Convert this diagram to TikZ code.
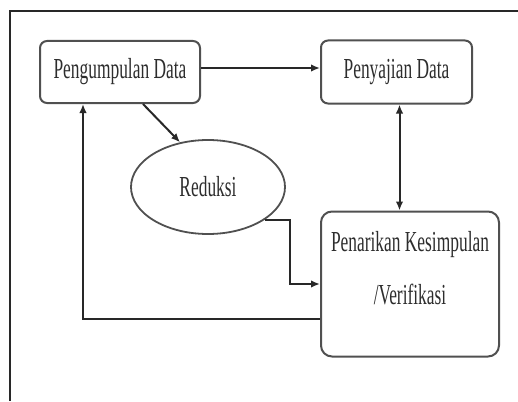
\documentclass[tikz,border=0pt]{standalone}
\usepackage{fontspec}
\setmainfont{Liberation Serif}[FakeStretch=0.6]
\usetikzlibrary{arrows.meta,positioning,shapes.geometric}
\definecolor{LineGray}{RGB}{40,40,40}
\definecolor{BoxGray}{RGB}{80,80,80}
\definecolor{TextGray}{RGB}{45,45,45}

\begin{document}
\begin{tikzpicture}[x=1pt,y=-1pt,
    box/.style={draw=BoxGray,line width=2pt,rounded corners=7pt,text=TextGray,font=\fontsize{29}{35}\selectfont,align=center,inner sep=0pt},
    oval/.style={ellipse,draw=BoxGray,line width=1.8pt,text=TextGray,font=\fontsize{29}{35}\selectfont,inner sep=0pt},
    arr/.style={-{Latex[length=9pt,width=7.5pt]},line width=2pt,draw=LineGray}]
    \useasboundingbox (0,0) rectangle (518,401);
    \draw[line width=1.5pt,LineGray] (10,401) |- (518,11);
    \node[box,minimum width=160pt,minimum height=62pt] (a) at (120,72) {Pengumpulan Data};
    \node[box,minimum width=151pt,minimum height=63pt,right=119pt of a] (b) {Penyajian Data};
    \node[oval,minimum width=154pt,minimum height=94pt] (r) at (208,187) {Reduksi};
    \node[box,rounded corners=11pt,minimum width=178pt,minimum height=145pt,below=106pt of b.south west,anchor=north west] (c) {Penarikan Kesimpulan\\[18pt]/Verifikasi\rule[-32pt]{0pt}{1pt}};
    \draw[arr] ([yshift=4pt]a.east) -- ([yshift=4pt]a.east -| b.west);
    \draw[arr] ([xshift=23pt]a.south) -- (r.122);
    \draw[arr,{Latex[length=9pt,width=7.5pt]}-{Latex[length=9pt,width=7.5pt]}] ([xshift=3pt]b.south) -- ([xshift=3pt]b.south |- c.north);
    \draw[arr] (r.-30) -- ++(25,0) |- (c.west);
    \draw[arr] ([yshift=-35pt]c.west) -| ([xshift=-37pt]a.south);
\end{tikzpicture}
\end{document}
